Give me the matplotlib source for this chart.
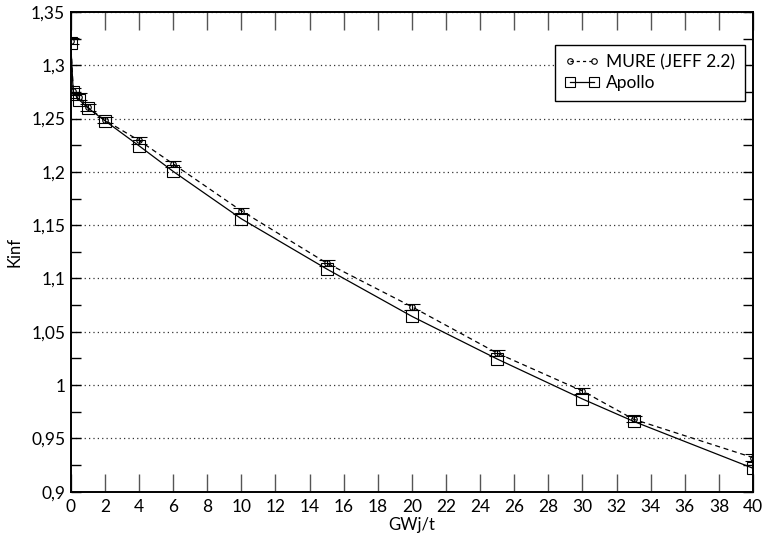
import matplotlib
matplotlib.use("Agg")
import matplotlib.pyplot as plt
from matplotlib.lines import Line2D
from matplotlib.ticker import MultipleLocator, FuncFormatter

plt.rcParams['font.family'] = ['Lato', 'DejaVu Sans']

# burnup steps (GWj/t)
burnup = [0, 0.15, 0.5, 1, 2, 4, 6, 10, 15, 20, 25, 30, 33, 40]
# Kinf values
kinf_mure = [1.3225, 1.2755, 1.2705, 1.2605, 1.2485, 1.2295, 1.2075, 1.1635,
             1.1145, 1.0735, 1.0300, 0.9945, 0.9680, 0.9320]
kinf_apollo = [1.3205, 1.2745, 1.2675, 1.2600, 1.2480, 1.2245, 1.2005, 1.1560,
               1.1090, 1.0645, 1.0245, 0.9870, 0.9660, 0.9220]
err_mure = [0.003] * len(burnup)

fig = plt.figure(figsize=(7.62, 5.41), dpi=100)
ax = fig.add_axes([0.0928, 0.091, 0.8955, 0.887])

ax.errorbar(burnup, kinf_mure, yerr=err_mure, color='black', ls='--', lw=0.9,
            marker='o', ms=4, mfc='none', mew=0.8, capsize=6, elinewidth=0.8,
            capthick=0.9, dashes=(4, 3))
ax.plot(burnup, kinf_apollo, color='black', ls='-', lw=0.9,
        marker='s', ms=8, mfc='none', mew=0.8)

ax.set_xlim(0, 40)
ax.set_ylim(0.9, 1.35)
ax.xaxis.set_major_locator(MultipleLocator(2))
ax.yaxis.set_major_locator(MultipleLocator(0.05))
ax.yaxis.set_minor_locator(MultipleLocator(0.025))

def comma(v, pos):
    s = ('%.2f' % v).rstrip('0').rstrip('.')
    return s.replace('.', ',')

ax.yaxis.set_major_formatter(FuncFormatter(comma))

ax.grid(axis='y', which='major', ls=(0, (1, 2.5)), color='#333333', lw=0.9)
ax.tick_params(axis='x', which='major', direction='in', top=True, length=13,
               width=1.0, color='#555555', labelsize=12.5, pad=5)
ax.tick_params(axis='y', which='both', direction='in', right=True, length=7,
               width=1.0, labelsize=12.5, pad=4)
for s in ax.spines.values():
    s.set_linewidth(1.4)

ax.set_xlabel('GWj/t', fontsize=12, labelpad=2)
ax.set_ylabel('Kinf', fontsize=12, labelpad=6)

handles = [
    Line2D([], [], color='black', ls='--', dashes=(2.5, 2.5), lw=0.9,
           marker='o', ms=4, mfc='none', mew=0.8),
    Line2D([], [], color='black', ls='-', lw=0.9,
           marker='s', ms=7, mfc='none', mew=0.8),
]
leg = ax.legend(handles, ['MURE (JEFF 2.2)', 'Apollo'], loc='upper right',
                bbox_to_anchor=(0.988, 0.932), numpoints=2,
                fontsize=12.5, frameon=True, fancybox=False, framealpha=1,
                edgecolor='black', handlelength=2.0, borderpad=0.55,
                labelspacing=0.3, handletextpad=0.4, borderaxespad=0)
leg.get_frame().set_linewidth(1.0)

fig.savefig('out.png', dpi=100)
